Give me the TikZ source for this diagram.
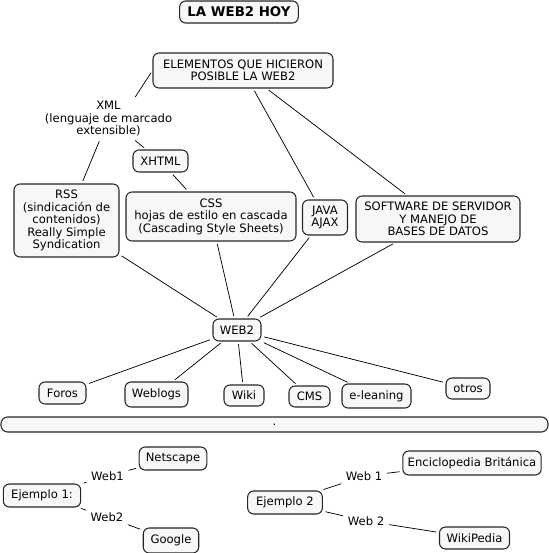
\documentclass[tikz,border=0pt]{standalone}
\usepackage{fontspec}
\setmainfont{DejaVu Sans}
\begin{document}
\begin{tikzpicture}[x=0.75pt,y=-0.75pt,
  box/.style={draw=black!85, fill=black!3, rounded corners=4.5pt, line width=0.8pt, align=center, inner sep=1pt, font=\fontsize{8.7}{9.4}\selectfont},
  lbl/.style={align=center, inner sep=1.5pt, font=\fontsize{8.7}{9.4}\selectfont},
  conn/.style={draw, line width=0.55pt, shorten <=2pt, shorten >=2pt}]
\useasboundingbox (0,0) rectangle (549,553);

\node[box, minimum width=89pt, minimum height=16.5pt, font=\bfseries\fontsize{10}{11}\selectfont] (title) at (239,12) {LA WEB2 HOY};
\node[box, minimum width=135pt, minimum height=26.25pt] (elem) at (243,70.5) {ELEMENTOS QUE HICIERON\\POSIBLE LA WEB2};
\node[lbl] (xml) at (108.5,119) {XML\\(lenguaje de marcado\\extensible)};
\node[box, minimum width=41.25pt, minimum height=16.5pt] (xhtml) at (160.5,161) {XHTML};
\node[box, minimum width=78.75pt, minimum height=54.75pt] (rss) at (66.5,220.5) {RSS\\(sindicación de\\contenidos)\\Really Simple\\Syndication};
\node[box, minimum width=127.5pt, minimum height=36.75pt] (css) at (211,216.5) {CSS\\hojas de estilo en cascada\\(Cascading Style Sheets)};
\node[box, minimum width=33.75pt, minimum height=26.25pt] (java) at (325,217.5) {JAVA\\AJAX};
\node[box, minimum width=123pt, minimum height=34.5pt] (soft) at (438,219) {SOFTWARE DE SERVIDOR\\Y MANEJO DE\\BASES DE DATOS};
\node[box, minimum width=36pt, minimum height=16.5pt] (web2) at (237,330) {WEB2};
\node[box, minimum width=35.25pt, minimum height=16.5pt] (foros) at (62.5,393) {Foros};
\node[box, minimum width=47.25pt, minimum height=18.75pt] (weblogs) at (156.5,394.5) {Weblogs};
\node[box, minimum width=30pt, minimum height=15.75pt] (wiki) at (244,395.5) {Wiki};
\node[box, minimum width=30.75pt, minimum height=15.75pt] (cms) at (309.5,396.5) {CMS};
\node[box, minimum width=51.75pt, minimum height=18pt] (elearn) at (376.5,396) {e-leaning};
\node[box, minimum width=33pt, minimum height=15.75pt] (otros) at (468,388.5) {otros};
\node[box, minimum width=410.25pt, minimum height=11.25pt, rounded corners=5pt] (bar) at (274.5,424.5) {.};

\node[box, minimum width=50.7pt, minimum height=17.25pt] (netscape) at (173,458.5) {Netscape};
\node[box, minimum width=58pt, minimum height=17.25pt] (ej1) at (42,495.5) {Ejemplo 1:};
\node[box, minimum width=41.6pt, minimum height=18.75pt] (google) at (171,540.5) {Google};
\node[lbl] (w1a) at (107.5,476) {Web1};
\node[lbl] (w2a) at (107,517) {Web2};
\node[box, minimum width=56pt, minimum height=17.25pt] (ej2) at (285,502.5) {Ejemplo 2};
\node[box, minimum width=103.8pt, minimum height=18pt] (enc) at (472,463) {Enciclopedia Británica};
\node[box, minimum width=52.5pt, minimum height=16.5pt] (wikip) at (474.5,538) {WikiPedia};
\node[lbl] (w1b) at (364,476) {Web 1};
\node[lbl] (w2b) at (366,521) {Web 2};

\path[conn] (elem.west) -- ([xshift=19]xml.north);
\path[conn] (elem) -- (java);
\path[conn] (elem) -- (soft);
\path[conn] (xml) -- (rss);
\path[conn] (xml) -- (xhtml);
\path[conn] (xhtml) -- (css);
\path[conn] (rss) -- (web2);
\path[conn] (css) -- (web2);
\path[conn] (java) -- (web2);
\path[conn] (soft) -- (web2);
\path[conn] (web2) -- (foros);
\path[conn] (web2) -- (weblogs);
\path[conn] (web2) -- (wiki);
\path[conn] (web2) -- (cms);
\path[conn] (web2) -- (elearn);
\path[conn] (web2) -- (otros);
\path[conn] (ej1) -- (w1a);
\path[conn] (w1a) -- (netscape);
\path[conn] (ej1) -- (w2a);
\path[conn] (w2a) -- (google);
\path[conn] (ej2) -- (w1b);
\path[conn] (w1b) -- (enc);
\path[conn] (ej2) -- (w2b);
\path[conn] (w2b) -- (wikip);
\end{tikzpicture}
\end{document}
